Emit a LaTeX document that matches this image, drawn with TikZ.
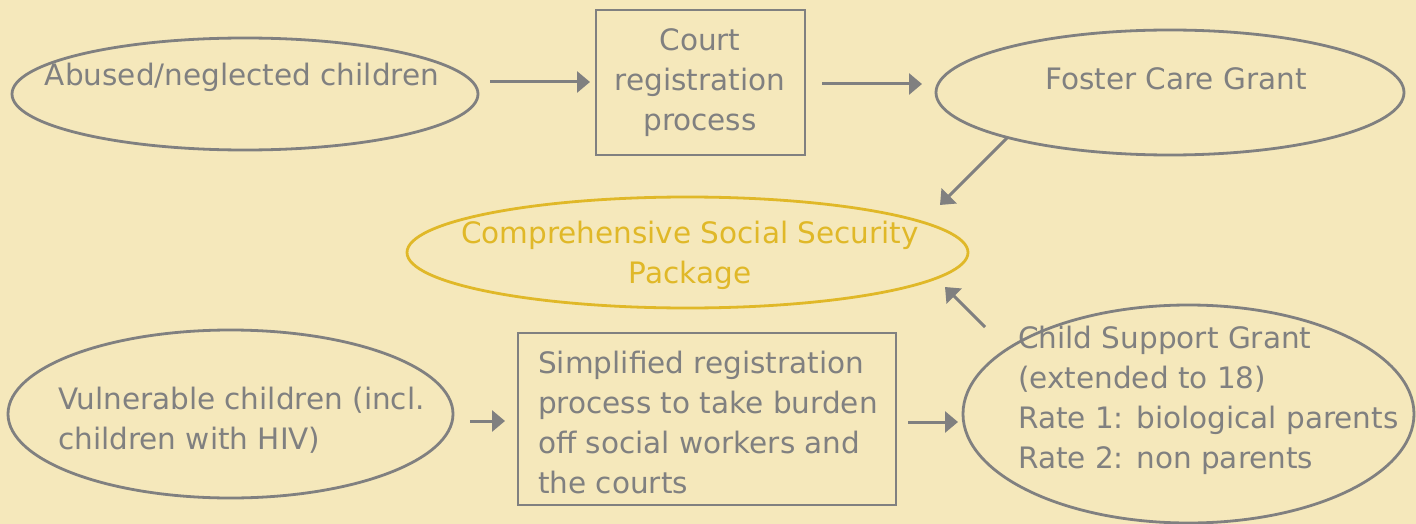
\documentclass[tikz,border=0pt]{standalone}
\usepackage{fontspec}
\setmainfont{DejaVu Sans}
\usetikzlibrary{shapes.geometric,arrows.meta,calc}
\definecolor{bgc}{RGB}{245,232,187}
\definecolor{grayc}{RGB}{128,128,128}
\definecolor{yelc}{RGB}{224,184,40}
\tikzset{
  shp/.style={draw=grayc, line width=2.8pt, inner sep=0pt},
  oval/.style={shp, ellipse},
  boxs/.style={shp, rectangle},
  txt/.style={text=grayc, inner sep=0pt, font=\fontsize{29.5}{40}\selectfont},
  arr/.style={draw=grayc, line width=3pt, -{Triangle[length=13pt,width=21pt]}},
}
\begin{document}
\begin{tikzpicture}[x=1pt,y=-1pt]
\fill[bgc] (0,0) rectangle (1416,524);
\useasboundingbox (0,0) rectangle (1416,524);
% shapes
\node[oval, minimum width=466pt, minimum height=112pt] (abused) at (245,94) {};
\node[boxs, minimum width=209pt, minimum height=145pt] (court) at (700.5,82.5) {};
\node[oval, minimum width=468pt, minimum height=125pt] (foster) at (1170,92.5) {};
\node[oval, draw=yelc, minimum width=561pt, minimum height=111pt] (cssp) at (687.5,252.5) {};
\node[oval, minimum width=445pt, minimum height=168pt] (vuln) at (230.5,414) {};
\node[boxs, minimum width=378pt, minimum height=172pt] (simp) at (707,419) {};
\node[oval, minimum width=451pt, minimum height=218pt] (csg) at (1188.5,414) {};
% texts
\node[txt] (tabused) at (242,77) {Abused/neglected children};
\node[txt, align=center] (tcourt) at (700,83) {Court\\registration\\process};
\node[txt] (tfoster) at (1176,79) {Foster Care Grant};
\node[txt, align=center, text=yelc] (tcssp) at (690,255) {Comprehensive Social Security\\Package};
\node[txt, align=left, anchor=west] (tvuln) at (58,420) {Vulnerable children (incl.\\children with HIV)};
\node[txt, align=left, anchor=west] (tsimp) at (538,422) {Simplified registration\\process to take burden\\off social workers and\\the courts};
\node[txt, align=left, anchor=west] (tcsg) at (1018,400) {Child Support Grant\\(extended to 18)\\Rate 1: biological parents\\Rate 2: non parents};
% connectors
\draw[arr] ($(abused.center)+(245,-12)$) -- ($(court.center)+(-110.5,-0.5)$);
\draw[arr] ($(court.center)+(121.5,1.5)$) -- ($(foster.center)+(-248,-8.5)$);
\draw[arr] ($(foster.center)+(-162,44.5)$) -- ($(cssp.center)+(252.5,-47.5)$);
\draw[arr] ($(csg.center)+(-203.5,-87)$) -- ($(cssp.center)+(257.5,34.5)$);
\draw[arr] ($(vuln.center)+(239.5,7)$) -- ($(simp.center)+(-202,2)$);
\draw[arr] ($(simp.center)+(201,3)$) -- ($(csg.center)+(-230.5,8)$);
\end{tikzpicture}
\end{document}
